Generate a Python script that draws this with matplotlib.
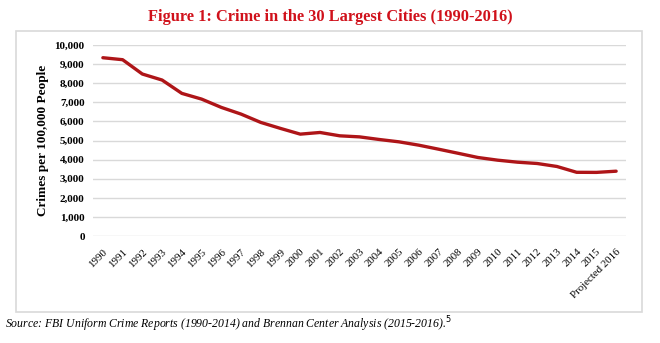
import matplotlib.pyplot as plt
from matplotlib.patches import Rectangle
from matplotlib.ticker import FuncFormatter

years = [str(y) for y in range(1990, 2016)] + ["Projected 2016"]
crime_rate = [9334, 9230, 8480, 8165, 7467, 7168, 6733, 6382, 5946, 5632,
              5333, 5420, 5245, 5190, 5053, 4930, 4756, 4546, 4330, 4110,
              3970, 3865, 3796, 3640, 3335, 3330, 3393]
y_ticks = list(range(0, 10001, 1000))

plt.rcParams["font.family"] = ["Liberation Serif", "DejaVu Serif"]

fig = plt.figure(figsize=(6.6, 3.43), dpi=100)
fig.patches.append(Rectangle((16 / 660, 1 - 312 / 343), 626 / 660, 281 / 343,
                             transform=fig.transFigure, fill=False,
                             edgecolor="#d9d9d9", linewidth=1.2))

ax = fig.add_axes([93 / 660, 1 - 236 / 343, 533 / 660, 191 / 343])
x = list(range(len(years)))
ax.plot(x, crime_rate, color="#ae1518", linewidth=2.4, solid_capstyle="round")

ax.set_xlim(-0.5, len(years) - 0.5)
ax.set_ylim(0, 10000)
ax.set_yticks(y_ticks)
ax.yaxis.set_major_formatter(FuncFormatter(lambda v, p: f"{int(v):,}"))
ax.set_xticks(x)
ax.set_xticklabels(years, rotation=45, ha="right", rotation_mode="anchor", fontsize=7.8)
for lab in ax.get_yticklabels():
    lab.set_fontweight("bold")
    lab.set_fontsize(8)
ax.tick_params(axis="y", length=0, pad=6)
ax.tick_params(axis="x", length=0, pad=8)
ax.grid(axis="y", color="#d9d9d9", linewidth=1)
ax.set_axisbelow(True)
for s in ax.spines.values():
    s.set_visible(False)
ax.set_ylabel("Crimes per 100,000 People", fontsize=9.5, fontweight="bold", labelpad=4)

fig.text(0.5, 1 - 17 / 343, "Figure 1: Crime in the 30 Largest Cities (1990-2016)",
         ha="center", va="center", color="#d0111b", fontsize=11.8, fontweight="bold")
fig.text(5 / 660, 1 - 324 / 343,
         "Source: FBI Uniform Crime Reports (1990-2014) and Brennan Center Analysis (2015-2016).$^{5}$",
         ha="left", va="center", fontsize=8.5, style="italic")

fig.savefig("out.png", dpi=100)
